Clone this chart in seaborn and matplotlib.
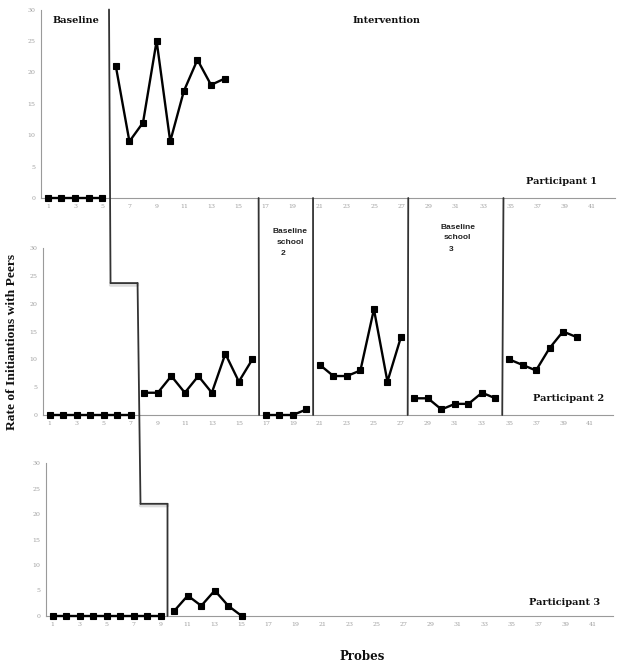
import matplotlib
matplotlib.use("Agg")
import matplotlib.pyplot as plt
import seaborn as sns
import pandas as pd
from matplotlib.patches import ConnectionPatch

# ---------------- data ----------------
p1_probes = list(range(1, 15))
p1_rates = [0, 0, 0, 0, 0, 21, 9, 12, 25, 9, 17, 22, 18, 19]
p1_phase = [0] * 5 + [1] * 9

p2_probes = list(range(1, 41))
p2_rates = [0, 0, 0, 0, 0, 0, 0,
            4, 4, 7, 4, 7, 4, 11, 6, 10,
            0, 0, 0, 1,
            9, 7, 7, 8, 19, 6, 14,
            3, 3, 1, 2, 2, 4, 3,
            10, 9, 8, 12, 15, 14]
p2_phase = [0] * 7 + [1] * 9 + [2] * 4 + [3] * 7 + [4] * 7 + [5] * 6

p3_probes = list(range(1, 16))
p3_rates = [0, 0, 0, 0, 0, 0, 0, 0, 0, 1, 4, 2, 5, 2, 0]
p3_phase = [0] * 9 + [1] * 6

participants = ["Participant 1", "Participant 2", "Participant 3"]
phase_change = [5.5, 7.5, 9.5]          # baseline -> intervention per participant
step_levels = [23.7, 22.0]              # height of multiple-baseline steps in panels 2, 3
p2_extra_phase_lines = [16.5, 20.5, 27.5, 34.5]
xtick_vals = list(range(1, 42, 2))
ytick_vals = [0, 5, 10, 15, 20, 25, 30]

frames = []
for name, pr, rt, ph in [(participants[0], p1_probes, p1_rates, p1_phase),
                         (participants[1], p2_probes, p2_rates, p2_phase),
                         (participants[2], p3_probes, p3_rates, p3_phase)]:
    frames.append(pd.DataFrame({"participant": name, "probe": pr, "rate": rt, "phase": ph}))
df = pd.concat(frames, ignore_index=True)

# ---------------- figure ----------------
sns.set_style("white")
W, H = 624, 668
fig = plt.figure(figsize=(W / 100, H / 100), dpi=100)

def px_axes(left, right, top, bottom):
    return fig.add_axes([left / W, 1 - bottom / H, (right - left) / W, (bottom - top) / H])

ax1 = px_axes(41, 615, 9.5, 198)
ax2 = px_axes(43, 613, 248, 415)
ax3 = px_axes(46, 613, 463, 616)
axes = [ax1, ax2, ax3]
xlims = [(0.5, 42.7), (0.5, 42.7), (0.5, 42.5)]

serif = "DejaVu Serif"
tick_col = "#a0a0a0"

for ax, name, xl in zip(axes, participants, xlims):
    sub = df[df.participant == name]
    sns.lineplot(data=sub, x="probe", y="rate", units="phase", estimator=None,
                 color="black", lw=1.7, marker="s", markersize=4.2,
                 markeredgewidth=0.8, markeredgecolor="black", ax=ax,
                 legend=False, zorder=5, clip_on=False)
    ax.set_xlim(*xl)
    ax.set_ylim(0, 30)
    ax.set_xticks(xtick_vals)
    ax.set_xticklabels([str(v) for v in xtick_vals], fontsize=4.5, color=tick_col, family=serif)
    ax.set_yticks(ytick_vals)
    ax.set_yticklabels([str(v) for v in ytick_vals], fontsize=4.5, color=tick_col, family=serif)
    ax.tick_params(axis="both", length=2, width=0.6, color=tick_col, pad=2)
    ax.set_xlabel("")
    ax.set_ylabel("")
    for s in ["top", "right"]:
        ax.spines[s].set_visible(False)
    for s in ["left", "bottom"]:
        ax.spines[s].set_color("#9a9a9a")
        ax.spines[s].set_linewidth(0.8)
    ax.patch.set_alpha(0)

# ---------------- phase lines ----------------
lc = "#333333"
lw = 1.3

def seg(axA, xyA, axB, xyB, color=lc, width=lw, z=10):
    cp = ConnectionPatch(xyA=xyA, coordsA=axA.transData, xyB=xyB, coordsB=axB.transData,
                         color=color, lw=width, zorder=z)
    fig.add_artist(cp)

# step shadows
seg(ax2, (phase_change[0], step_levels[0] - 0.35), ax2, (phase_change[1], step_levels[0] - 0.35),
    color="#dcdcdc", width=2.5, z=9)
seg(ax3, (phase_change[1], step_levels[1] - 0.35), ax3, (phase_change[2], step_levels[1] - 0.35),
    color="#dcdcdc", width=2.5, z=9)

seg(ax1, (phase_change[0], 30), ax2, (phase_change[0], step_levels[0]))
seg(ax2, (phase_change[0], step_levels[0]), ax2, (phase_change[1], step_levels[0]))
seg(ax2, (phase_change[1], step_levels[0]), ax3, (phase_change[1], step_levels[1]))
seg(ax3, (phase_change[1], step_levels[1]), ax3, (phase_change[2], step_levels[1]))
seg(ax3, (phase_change[2], step_levels[1]), ax3, (phase_change[2], 0))

for xv in p2_extra_phase_lines:
    seg(ax1, (xv, 0), ax2, (xv, 0))

# ---------------- text ----------------
bold_serif = dict(family=serif, fontweight="bold", color="#111111")
ax1.text(3.06, 28.3, "Baseline", fontsize=7, ha="center", va="center", **bold_serif)
ax1.text(25.9, 28.3, "Intervention", fontsize=7, ha="center", va="center", **bold_serif)
ax1.text(38.8, 2.7, "Participant 1", fontsize=7, ha="center", va="center", **bold_serif)
ax2.text(39.4, 3.0, "Participant 2", fontsize=7, ha="center", va="center", **bold_serif)
ax3.text(38.9, 2.7, "Participant 3", fontsize=7, ha="center", va="center", **bold_serif)

sans_b = dict(family="Liberation Sans", fontweight="bold", color="#222222", fontsize=6,
              ha="center", va="center")
ax2.text(18.8, 33.0, "Baseline", **sans_b)
ax2.text(18.8, 31.0, "school", **sans_b)
ax2.text(18.3, 29.1, "2", **sans_b)
ax2.text(31.2, 33.75, "Baseline", **sans_b)
ax2.text(31.2, 31.8, "school", **sans_b)
ax2.text(30.7, 29.8, "3", **sans_b)

fig.text(362 / W, 1 - 657 / H, "Probes", fontsize=8.5, ha="center", va="center", **bold_serif)
fig.text(12 / W, 1 - 342 / H, "Rate of Initiantions with Peers", rotation=90,
         fontsize=9.7, ha="center", va="center", family="Liberation Serif",
         fontweight="bold", color="#111111")

fig.savefig("out.png", dpi=100)
